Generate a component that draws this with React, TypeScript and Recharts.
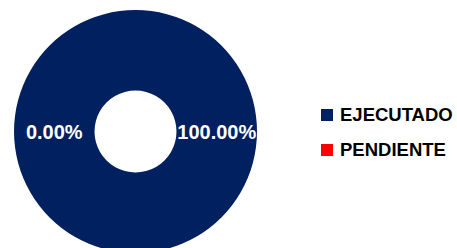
import { PieChart, Pie, Cell, Legend } from 'recharts';

// Avance de ejecución: ejecutado vs pendiente
const CATEGORIES = ['EJECUTADO', 'PENDIENTE'];
const VALUES = [100, 0];
const COLORS = ['#002060', '#FF0000'];

const FONT = '"Liberation Sans", Arial, sans-serif';
const RADIAN = Math.PI / 180;

const data = CATEGORIES.map((name, i) => ({ name, value: VALUES[i] }));

/* eslint-disable @typescript-eslint/no-explicit-any */
function SliceLabel({ cx, cy, midAngle, innerRadius, outerRadius, percent }: any) {
  const r = (innerRadius + outerRadius) / 2;
  const x = cx + r * Math.cos(-midAngle * RADIAN);
  const y = cy + r * Math.sin(-midAngle * RADIAN);
  return (
    <text
      x={x}
      y={y}
      dy={7}
      textAnchor="middle"
      fill="#ffffff"
      fontFamily={FONT}
      fontWeight="bold"
      fontSize={20}
    >
      {`${((percent ?? 0) * 100).toFixed(2)}%`}
    </text>
  );
}

function LegendContent({ payload }: any) {
  return (
    <ul style={{ margin: 0, padding: 0, listStyle: 'none' }}>
      {(payload ?? []).map((entry: any) => (
        <li key={entry.value} style={{ display: 'flex', alignItems: 'center', height: 35 }}>
          <span style={{ width: 12, height: 12, background: entry.color, marginRight: 7 }} />
          <span style={{ fontFamily: FONT, fontWeight: 'bold', fontSize: 18.5, color: '#000' }}>
            {entry.value}
          </span>
        </li>
      ))}
    </ul>
  );
}
/* eslint-enable @typescript-eslint/no-explicit-any */

export default function App() {
  return (
    <div style={{ position: 'fixed', left: 0, top: 0, width: 457, height: 248, background: '#fff' }}>
      <PieChart width={457} height={248} margin={{ top: 0, right: 0, bottom: 0, left: 0 }}>
        <Pie
          data={data}
          dataKey="value"
          nameKey="name"
          cx={135.5}
          cy={131.5}
          innerRadius={41}
          outerRadius={121.5}
          startAngle={180}
          endAngle={-180}
          stroke="none"
          labelLine={false}
          label={<SliceLabel />}
          isAnimationActive={false}
        >
          {data.map((d, i) => (
            <Cell key={d.name} fill={COLORS[i]} />
          ))}
        </Pie>
        <Legend
          layout="vertical"
          content={<LegendContent />}
          wrapperStyle={{ left: 321, top: 97.5, width: 136 }}
        />
      </PieChart>
    </div>
  );
}
